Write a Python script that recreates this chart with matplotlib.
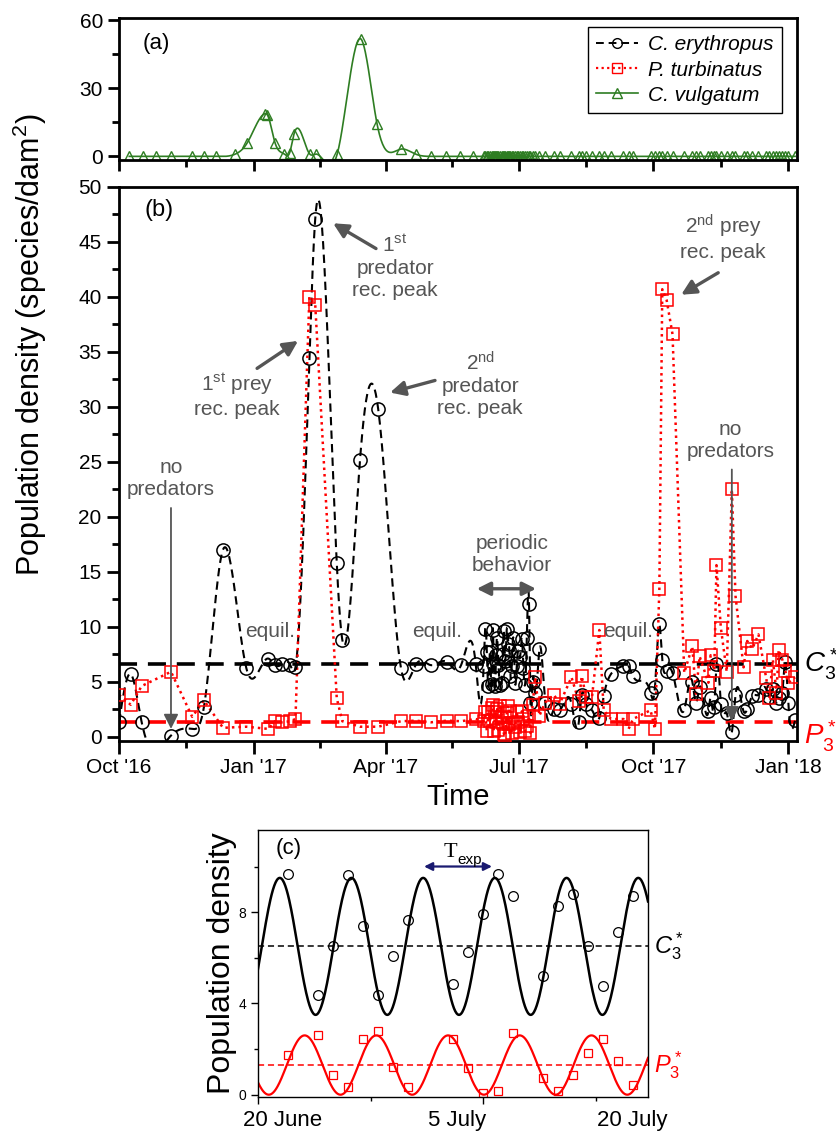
import numpy as np
import matplotlib
matplotlib.use("Agg")
import matplotlib.pyplot as plt
from matplotlib.lines import Line2D

plt.rcParams['font.family'] = ['Liberation Sans', 'DejaVu Sans']
plt.rcParams['mathtext.fontset'] = 'custom'
plt.rcParams['mathtext.rm'] = 'Liberation Sans'
plt.rcParams['mathtext.it'] = 'Liberation Sans:italic'

# ---------------- data (days since 1 Oct 2016) ----------------
# panel (a): C. vulgatum
vulg_days = [7, 16.6, 25.6, 35.4, 50, 58, 66, 79.4, 87.7, 99.6, 101.4, 106.5, 113, 116.6,
             119.5, 130.3, 134.7, 149, 165.3, 176.2, 192.4, 202.5, 213.4, 223, 233, 242]
vulg = [0, 0, 0, 0, 0, 0, 0, 1.0, 6.1, 18.8, 18.2, 6.1, 1.0, 1.7,
        9.8, 1.0, 1.0, 1.0, 51.7, 14.4, 3.2, 1.0, 0, 0, 0, 0]

# panel (b): C. erythropus (predator) and P. turbinatus (prey)
days_b = [0, 8, 15.5, 35.5, 50, 58, 71, 87, 102, 106.5, 111.5, 117, 120.5, 130, 134,
          148.7, 152.5, 164.6, 177, 192.6, 203, 213, 224, 233.6, 243.6,
          # periodic stretch, June - July 2017
          249, 250, 251.2, 252.3, 253.4, 254.6, 255.2, 255.9, 256.8, 257.5, 258.2, 259.1,
          260.2, 261.4, 262.1, 262.8, 263.7, 264.8, 265.9, 266.6, 267.3, 268.2, 269.3,
          270.5, 271.6, 272.8, 273.9, 275.1, 276.2, 277.3, 278.5, 280, 281, 282.5, 284.2,
          287.1, 291, 297, 301, 309, 314, 316, 319, 323, 328, 331, 336, 344.5, 348, 351,
          363, 366, 369, 371, 374, 378, 386, 391.5, 394, 396.5, 402.5, 404, 406.5, 408,
          411, 415, 418.5, 421, 426.5, 429, 432.5, 436.7, 442, 444, 446.5, 449, 450.5,
          453, 455, 457, 461.7]
eryth = [1.3, 5.7, 1.3, 0.1, 0.7, 2.7, 17.0, 6.2, 7.1, 6.5, 6.6, 6.5, 6.3, 34.4, 47.1,
         15.8, 8.8, 25.2, 29.8, 6.2, 6.6, 6.5, 6.8, 6.5, 6.6,
         6.45, 9.79, 7.67, 4.58, 7.67, 4.82, 9.73, 6.45, 4.58, 7.45, 9.0, 6.55,
         4.7, 4.88, 7.55, 9.6, 6.91, 9.79, 8.45, 7.85, 5.48, 6.45, 8.97,
         4.88, 6.45, 7.8, 7.21, 8.88, 6.2, 4.73, 9.0, 12.1, 3.06, 5.0, 4.0,
         8.0, 3.1, 2.5, 2.45, 3.0, 1.3, 3.8, 3.0, 2.4, 1.7, 3.7, 5.7, 6.45, 6.4, 5.5,
         4.0, 4.5, 10.2, 7.0, 6.0, 5.8, 2.45, 5.0, 3.1, 4.5, 2.3, 3.5, 2.7, 6.6,
         3.0, 2.15, 0.4, 3.8, 2.3, 2.5, 3.7, 3.8, 4.3, 3.6, 4.3, 3.1, 3.5,
         4.0, 6.8, 3.1, 1.5]
turb = [3.8, 2.9, 4.6, 5.9, 1.8, 3.3, 0.8, 0.9, 0.7, 1.4, 1.3, 1.4, 1.6, 40.0, 39.3,
        3.5, 1.4, 0.9, 0.9, 1.4, 1.45, 1.3, 1.45, 1.4, 1.6,
        1.4, 2.2, 0.5, 2.21, 1.39, 2.6, 2.91, 0.48, 2.21, 1.3, 2.5, 0.6,
        2.76, 1.8, 1.24, 0.27, 0.03, 2.15, 2.82, 1.15, 2.3, 0.33, 1.2,
        0.9, 2.21, 1.3, 0.4, 2.3, 1.6, 0.48, 1.0, 1.85, 0.33, 2.9, 5.4,
        1.9, 3.1, 3.8, 3.0, 5.4, 3.2, 5.5, 3.6, 3.6, 9.7, 2.4, 1.6, 1.6, 0.7, 1.6,
        2.4, 0.7, 13.4, 40.7, 39.7, 36.6, 5.8, 8.2, 3.9, 7.3, 4.9, 7.4, 6.0, 15.6,
        9.9, 5.9, 22.5, 12.8, 6.3, 8.7, 8.0, 9.3, 5.3, 3.5, 7.0, 4.0, 7.9,
        7.0, 6.0, 4.9, 5.4]
C3_eq = 6.6
P3_eq = 1.35

# panel (c): days since 20 June 2017
days_c = [2, 4, 5, 6, 7, 8, 9, 10, 13, 14, 15, 16, 17, 19, 20, 21, 22, 23, 24, 25]
eryth_c = [9.67, 4.35, 6.52, 9.61, 7.39, 4.35, 6.09, 7.65, 4.86, 6.26, 7.93, 9.67, 8.70,
           5.22, 8.26, 8.80, 6.52, 4.78, 7.14, 8.70]
turb_c = [1.74, 2.61, 0.87, 0.33, 2.43, 2.78, 1.20, 0.33, 2.43, 1.16, 0.07, 0.17, 2.71,
          0.72, 0.17, 0.87, 1.84, 2.43, 1.49, 0.43]
# sinusoidal fits: mean, amplitude, period (days), time of first peak
fit_C = (6.5, 3.0, 4.78, 1.45)
fit_P = (1.3, 1.3, 4.78, 3.11)
C3_c = 6.5
P3_c = 1.3

quarter_days = [0, 92, 182, 273, 365, 457]
quarter_labels = ["Oct '16", "Jan '17", "Apr '17", "Jul '17", "Oct '17", "Jan '18"]


def natural_spline(x, y, n=30):
    # natural cubic spline, like Origin's "spline" connection
    x = np.asarray(x, float)
    y = np.asarray(y, float)
    h = np.diff(x)
    N = len(x)
    A = np.zeros((N, N))
    r = np.zeros(N)
    A[0, 0] = A[-1, -1] = 1
    for i in range(1, N - 1):
        A[i, i - 1] = h[i - 1]
        A[i, i] = 2 * (h[i - 1] + h[i])
        A[i, i + 1] = h[i]
        r[i] = 3 * ((y[i + 1] - y[i]) / h[i] - (y[i] - y[i - 1]) / h[i - 1])
    c = np.linalg.solve(A, r)
    b = (y[1:] - y[:-1]) / h - h * (2 * c[:-1] + c[1:]) / 3
    d = (c[1:] - c[:-1]) / (3 * h)
    xs, ys = [], []
    for i in range(N - 1):
        t = np.linspace(0, h[i], n, endpoint=False)
        xs.append(x[i] + t)
        ys.append(y[i] + b[i] * t + c[i] * t ** 2 + d[i] * t ** 3)
    xs.append([x[-1]])
    ys.append([y[-1]])
    return np.concatenate(xs), np.concatenate(ys)


W, H = 837, 1136
fig = plt.figure(figsize=(W / 100, H / 100), dpi=100)


def px_axes(l, t, r, b):
    return fig.add_axes([l / W, 1 - b / H, (r - l) / W, (b - t) / H])


ax_a = px_axes(119, 18, 797, 160)
ax_b = px_axes(119, 187, 797, 741)
ax_c = px_axes(258, 830, 648, 1097)

gray = '#555555'
narrow = ['Liberation Sans Narrow', 'Liberation Sans']

# ---------------- panel (a) ----------------
late_days = days_b[25:]
vx, vy = natural_spline(vulg_days + late_days, vulg + [0] * len(late_days))
ax_a.plot(vx, vy, color='#2e7d22', lw=1.2)
ax_a.plot(vulg_days + late_days, vulg + [0] * len(late_days), ls='none',
          marker='^', ms=7, mfc='none', mec='#2e7d22', mew=1.0)
ax_a.set_xlim(0, 463)
ax_a.set_ylim(-1.6, 61)
ax_a.set_yticks([0, 30, 60])
ax_a.set_yticks([15, 45], minor=True)
ax_a.set_xticks(quarter_days)
ax_a.set_xticks([46, 137, 227.5, 319, 411], minor=True)
ax_a.set_xticklabels([])
for lab in ax_a.get_yticklabels():
    lab.set_family(narrow)
    lab.set_fontsize(15)
ax_a.text(0.035, 0.82, '(a)', transform=ax_a.transAxes, fontsize=16, va='center', family=narrow)
handles = [Line2D([], [], color='k', ls=(0, (4, 2.5)), lw=1.4, marker='o', ms=7, mfc='none'),
           Line2D([], [], color='red', ls=(0, (1, 1.5)), lw=1.6, marker='s', ms=6.5, mfc='none', mec='red'),
           Line2D([], [], color='#2e7d22', lw=1.2, marker='^', ms=7, mfc='none')]
leg = ax_a.legend(handles, ['C. erythropus', 'P. turbinatus', 'C. vulgatum'],
                  loc='upper right', bbox_to_anchor=(0.978, 0.937), borderaxespad=0,
                  fancybox=False, edgecolor='k', framealpha=1, handlelength=2.0,
                  borderpad=0.4, labelspacing=0.3, handletextpad=0.5,
                  prop=dict(family=narrow, style='italic', size=15))
leg.get_frame().set_linewidth(1.0)

# ---------------- panel (b) ----------------
ax_b.axhline(C3_eq, color='k', lw=2.6, ls=(0, (5, 3)), zorder=1)
ax_b.axhline(P3_eq, color='red', lw=2.6, ls=(0, (5, 3)), zorder=1)
sx, sy = natural_spline(days_b, eryth)
ax_b.plot(sx, sy, color='k', lw=1.5, ls=(0, (4, 2.5)), zorder=2)
ax_b.plot(days_b, turb, color='red', lw=1.8, ls=(0, (1, 1.6)), zorder=2)
ax_b.plot(days_b, eryth, ls='none', marker='o', ms=9.5, mfc='none', mec='k', mew=1.1, zorder=3)
ax_b.plot(days_b, turb, ls='none', marker='s', ms=8.5, mfc='none', mec='red', mew=1.1, zorder=3)
ax_b.set_xlim(0, 463)
ax_b.set_ylim(-0.4, 50)
ax_b.set_yticks(np.arange(0, 51, 5))
ax_b.set_yticks(np.arange(2.5, 50, 5), minor=True)
ax_b.set_xticks(quarter_days)
ax_b.set_xticklabels(quarter_labels)
ax_b.set_xticks([46, 137, 227.5, 319, 411], minor=True)
ax_b.tick_params(labelsize=15)
ax_b.set_xlabel('Time', fontsize=21, labelpad=4)
fig.text(30 / W, 1 - 345 / H, 'Population density (species/dam$^2$)', rotation=90,
         fontsize=22, ha='center', va='center')
ax_b.text(0.038, 0.958, '(b)', transform=ax_b.transAxes, fontsize=17, va='center')

ax_b.text(1.01, (C3_eq + 0.4) / 50.4, '$C_3^*$', transform=ax_b.transAxes, fontsize=20,
          va='center', ha='left', color='k', clip_on=False)
ax_b.text(1.01, (P3_eq - 0.9) / 50.4, '$P_3^*$', transform=ax_b.transAxes, fontsize=20,
          va='center', ha='left', color='red', clip_on=False)

ann = dict(color=gray, fontsize=15, ha='center', va='center', linespacing=1.2)
thick = dict(arrowstyle='-|>', color=gray, lw=2.4, mutation_scale=22, shrinkA=0, shrinkB=0)
thin = dict(arrowstyle='-|>', color=gray, lw=1.3, mutation_scale=22, shrinkA=0, shrinkB=0)

ax_b.text(35.5, 23.5, 'no\npredators', **ann)
ax_b.annotate('', xy=(35.5, 0.7), xytext=(35.5, 20.8), arrowprops=thin)
ax_b.text(188.5, 42.7, '1$^{\\rm st}$\npredator\nrec. peak', **ann)
ax_b.annotate('', xy=(146.2, 46.7), xytext=(175.5, 44.4), arrowprops=thick)
ax_b.text(80.6, 31.05, '1$^{\\rm st}$ prey\nrec. peak', **ann)
ax_b.annotate('', xy=(122.3, 36.0), xytext=(94.3, 33.5), arrowprops=thick)
ax_b.text(246.6, 32.0, '2$^{\\rm nd}$\npredator\nrec. peak', **ann)
ax_b.annotate('', xy=(185.1, 31.3), xytext=(215.8, 32.4), arrowprops=thick)
ax_b.text(412.6, 45.4, '2$^{\\rm nd}$ prey\nrec. peak', **ann)
ax_b.annotate('', xy=(383.9, 40.2), xytext=(409.2, 42.2), arrowprops=thick)
ax_b.text(417.4, 26.9, 'no\npredators', **ann)
ax_b.annotate('', xy=(418.5, 1.4), xytext=(418.5, 24.3), arrowprops=thin)
ax_b.text(268.2, 16.6, 'periodic\nbehavior', **ann)
ax_b.annotate('', xy=(244.3, 13.45), xytext=(284.8, 13.45),
              arrowprops=dict(arrowstyle='<|-|>', color=gray, lw=2.4, mutation_scale=20,
                              shrinkA=0, shrinkB=0))
for xd in [103.1, 217, 347.7]:
    ax_b.text(xd, 9.6, 'equil.', **ann)

# ---------------- panel (c) ----------------
tc = np.linspace(0, 26, 600)
m, a, p, t0 = fit_C
ax_c.plot(tc, m + a * np.cos(2 * np.pi * (tc - t0) / p), color='k', lw=1.8)
m, a, p, t0 = fit_P
ax_c.plot(tc, m + a * np.cos(2 * np.pi * (tc - t0) / p), color='red', lw=1.6)
ax_c.axhline(C3_c, color='k', lw=1.1, ls=(0, (4, 2.5)))
ax_c.axhline(P3_c, color='red', lw=1.1, ls=(0, (4, 2.5)))
ax_c.plot(days_c, eryth_c, ls='none', marker='o', ms=7, mfc='none', mec='k', mew=0.9)
ax_c.plot(days_c, turb_c, ls='none', marker='s', ms=6, mfc='none', mec='red', mew=0.9)
ax_c.set_xlim(0, 26)
ax_c.set_ylim(-0.1, 11.6)
ax_c.set_yticks([0, 4, 8])
ax_c.set_yticks([2, 6, 10], minor=True)
ax_c.set_xticks([0, 15])
ax_c.set_xticks([7.5, 22.5], minor=True)
ax_c.set_xticklabels([])
ax_c.tick_params(labelsize=10)
for xa, lab in [(0.064, '20 June'), (0.51, '5 July'), (0.959, '20 July')]:
    ax_c.text(xa, -0.088, lab, transform=ax_c.transAxes, fontsize=16, ha='center', va='center')
ax_c.set_ylabel('Population density', fontsize=23, labelpad=1)
ax_c.text(0.045, 0.93, '(c)', transform=ax_c.transAxes, fontsize=16, va='center')
ax_c.annotate('', xy=(11.07, 10.0), xytext=(15.6, 10.0),
              arrowprops=dict(arrowstyle='<|-|>', color='#1a1a70', lw=1.6, mutation_scale=12,
                              shrinkA=0, shrinkB=0))
ax_c.text(13.3, 10.6, 'T', family='Liberation Serif', fontsize=16, ha='right', va='center')
ax_c.text(13.3, 10.3, 'exp', fontsize=11, ha='left', va='center')
ax_c.text(1.015, (C3_c + 0.1) / 11.7, '$C_3^*$', transform=ax_c.transAxes, fontsize=17,
          va='center', ha='left', color='k')
ax_c.text(1.015, (P3_c + 0.1) / 11.7, '$P_3^*$', transform=ax_c.transAxes, fontsize=17,
          va='center', ha='left', color='red')

for ax, lw in [(ax_a, 2.0), (ax_b, 2.0), (ax_c, 1.0)]:
    for s in ax.spines.values():
        s.set_linewidth(lw)
ax_a.tick_params(which='major', length=8, width=2.0, direction='out')
ax_a.tick_params(which='minor', length=5, width=2.0, direction='out')
ax_b.tick_params(which='major', length=9, width=2.0, direction='out')
ax_b.tick_params(which='minor', length=5, width=2.0, direction='out')
ax_c.tick_params(which='major', length=5, width=1.0, direction='out')
ax_c.tick_params(which='minor', length=3, width=1.0, direction='out')

fig.savefig('out.png', dpi=100)
